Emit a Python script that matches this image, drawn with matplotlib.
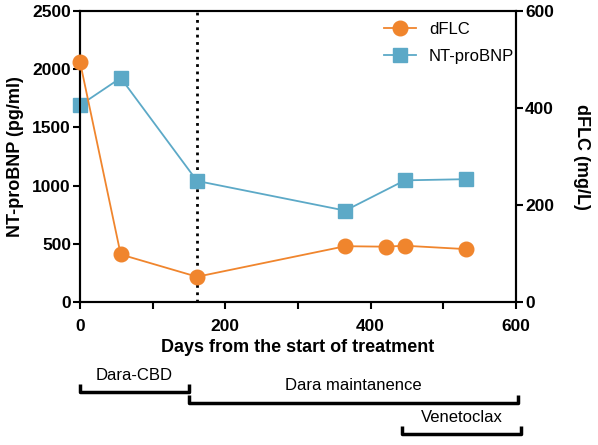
import matplotlib.pyplot as plt
from matplotlib.transforms import blended_transform_factory

plt.rcParams['font.family'] = ['Liberation Sans', 'DejaVu Sans']

# NT-proBNP (left axis)
bnp_days = [0, 56, 161, 365, 447, 531]
bnp_vals = [1690, 1925, 1040, 785, 1045, 1055]

# dFLC (right axis)
flc_days = [0, 56, 161, 365, 421, 447, 531]
flc_vals = [495, 98, 52, 115, 114, 116, 109]

switch_day = 161

# treatment periods: (label, start day, end day, bracket y in pixels from top)
periods = [("Dara-CBD", 0, 150, 392),
           ("Dara maintanence", 150, 603, 403),
           ("Venetoclax", 443, 607, 434)]

ORANGE = "#F0852D"
BLUE = "#5CA9C7"


def main():
    fig = plt.figure(figsize=(5.98, 4.45), dpi=100)
    ax = fig.add_axes([0.1338, 0.3214, 0.7291, 0.6539])
    ax2 = ax.twinx()

    l1, = ax2.plot(flc_days, flc_vals, color=ORANGE, marker='o',
                   markersize=10.5, linewidth=1.3, label="dFLC",
                   zorder=3, clip_on=False)
    l2, = ax.plot(bnp_days, bnp_vals, color=BLUE, marker='s',
                  markersize=10, linewidth=1.3, label="NT-proBNP",
                  zorder=3, clip_on=False)
    ax.axvline(switch_day, color='black', linestyle=':', linewidth=2)

    ax.set_xlim(0, 600)
    ax.set_ylim(0, 2500)
    ax2.set_ylim(0, 600)
    ax.set_xticks([0, 200, 400, 600])
    ax.set_xticks([100, 300, 500], minor=True)
    ax.set_yticks(range(0, 2501, 500))
    ax2.set_yticks([0, 200, 400, 600])

    for a in (ax, ax2):
        for s in a.spines.values():
            s.set_linewidth(1.5)
        a.tick_params(which='both', width=1.5, length=5, labelsize=12.5,
                      pad=1.5)
        for lab in a.get_xticklabels() + a.get_yticklabels():
            lab.set_fontweight('bold')
    ax.tick_params(axis='x', which='both', pad=7)

    ax.set_ylabel("NT-proBNP (pg/ml)", fontsize=13, fontweight='bold',
                  labelpad=6)
    ax2.set_ylabel("dFLC (mg/L)", fontsize=13, fontweight='bold',
                   rotation=270, labelpad=26)
    ax.set_xlabel("Days from the start of treatment", fontsize=13,
                  fontweight='bold', labelpad=4)

    ax.legend(handles=[l1, l2], loc='upper right', frameon=False,
              fontsize=12, handlelength=1.9, labelspacing=0.75,
              bbox_to_anchor=(1.03, 1.015))

    # treatment brackets below the x axis
    H = 445
    trans = blended_transform_factory(ax.transData, fig.transFigure)
    for name, start, end, ypx in periods:
        y = 1 - ypx / H
        tick = 8 / H
        ax.plot([start, start, end, end], [y + tick, y, y, y + tick],
                color='black', linewidth=2.5, transform=trans,
                clip_on=False, solid_capstyle='butt')
        ax.text((start + end) / 2, y + 17 / H, name, transform=trans,
                ha='center', va='center', fontsize=12)

    fig.savefig("out.png", dpi=100)


if __name__ == "__main__":
    main()
